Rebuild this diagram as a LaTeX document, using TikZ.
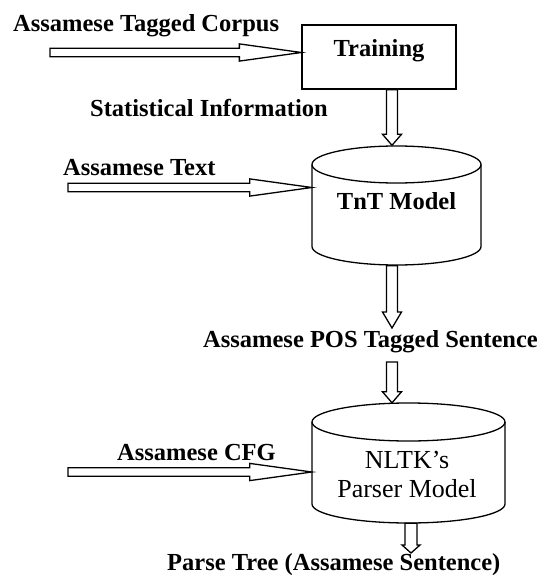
\documentclass[tikz,border=0pt]{standalone}
\usepackage{fontspec}
\setmainfont{Liberation Serif}
\usetikzlibrary{calc}
\tikzset{
  lbl/.style={font=\fontsize{24.5}{29}\selectfont\bfseries, inner sep=0pt},
  lblreg/.style={font=\fontsize{26}{30}\selectfont, inner sep=0pt},
  boxstyle/.style={draw, line width=1.3pt, minimum width=154pt, minimum height=64pt,
    inner sep=0pt, text height=20pt, text depth=20pt, font=\fontsize{24.5}{29}\selectfont\bfseries},
  ghost/.style={inner sep=0pt},
  cylline/.style={line width=1.3pt},
  blk/.style={draw, line width=1.3pt, fill=white, line join=miter},
}
\newcommand\blockarrow[5]{%
  \draw[blk] let \p1=(#1), \p2=(#2),
      \n1={veclen(\x2-\x1,\y2-\y1)}, \n2={atan2(\y2-\y1,\x2-\x1)} in
    [shift={(\p1)}, rotate=\n2]
    (0pt,-#3pt) -- ({\n1-#5pt},-#3pt) -- ({\n1-#5pt},-#4pt) -- (\n1,0pt)
    -- ({\n1-#5pt},#4pt) -- ({\n1-#5pt},#3pt) -- (0pt,#3pt) -- cycle;}
\begin{document}
\begin{tikzpicture}[x=1pt,y=-1pt]
\useasboundingbox (0,0) rectangle (546,575);

% Training box
\node[boxstyle] (train) at (379,57) {Training};

% TnT cylinder
\node[ghost, minimum width=169pt, minimum height=120pt, text height=20pt, text depth=13pt,
      font=\fontsize{24.5}{29}\selectfont\bfseries] (tnt) at (396.5,205.5) {TnT Model};
\draw[cylline] (312,164.5) -- (312,246.5)
  arc[start angle=180, end angle=0, x radius=84.5, y radius=18.5] -- (481,164.5);
\draw[cylline] (396.5,164.5) ellipse [x radius=84.5, y radius=18.5];

% NLTK cylinder
\node[ghost, minimum width=193pt, minimum height=120pt] (nltk) at (408.5,463) {};
\draw[cylline] (312,422) -- (312,504)
  arc[start angle=180, end angle=0, x radius=96.5, y radius=19] -- (505,422);
\draw[cylline] (408.5,422) ellipse [x radius=96.5, y radius=19];
\node[lblreg, anchor=base] (nltk1) at (407,468) {NLTK’s};
\node[lblreg, anchor=base] (nltk2) at (407,497) {Parser Model};

% labels
\node[lbl, anchor=base west] (corpus) at (13,32) {Assamese Tagged Corpus};
\node[lbl, anchor=base west] (stat) at (90,117) {Statistical Information};
\node[lbl, anchor=base west] (txt) at (63,175) {Assamese Text};
\node[lbl, anchor=base west] (pos) at (203,347) {Assamese POS Tagged Sentence};
\node[lbl, anchor=base west] (cfg) at (117,460) {Assamese CFG};
\node[lbl, anchor=base west] (parse) at (167,570) {Parse Tree (Assamese Sentence)};

% connector ends
\coordinate (cA) at (50,52.5);
\coordinate (cT) at (68,187.5);
\coordinate (cC) at (68,472);
\coordinate (colA) at (392,0);
\coordinate (colB) at (411,0);
\coordinate (posin) at (392,328);
\coordinate (posout) at (392,362);
\coordinate (parsein) at (411,553);

% block arrows
\blockarrow{cA}{train.west |- cA}{4.2}{8.6}{62}
\blockarrow{cT}{tnt.west |- cT}{4.2}{8.6}{62}
\blockarrow{cC}{nltk.west |- cC}{4.2}{8.6}{62}
\blockarrow{colA |- train.south}{colA |- tnt.north}{5.5}{9.5}{11}
\blockarrow{colA |- tnt.south}{posin}{5.5}{9.5}{16}
\blockarrow{posout}{colA |- nltk.north}{5.5}{9.5}{11}
\blockarrow{colB |- nltk.south}{parsein}{6}{9}{8}
\end{tikzpicture}
\end{document}
